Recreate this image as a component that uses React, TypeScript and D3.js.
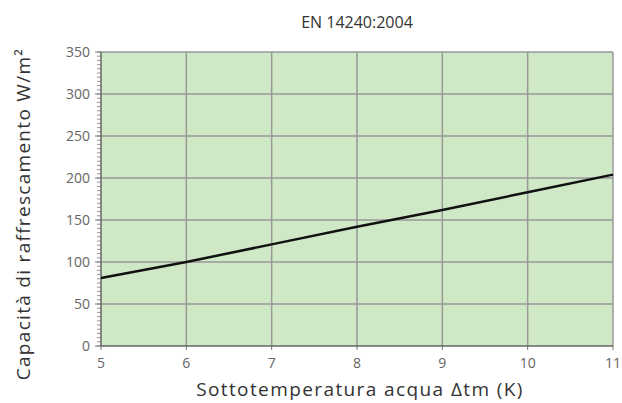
import * as d3 from 'd3'
import React, { useEffect, useRef } from 'react'

const subcooling = [5, 6, 7, 8, 9, 10, 11]
const capacity = [81, 100, 121, 142, 162, 183, 204]
const yTicks = [0, 50, 100, 150, 200, 250, 300, 350]
const xTicks = [5, 6, 7, 8, 9, 10, 11]

const W = 622
const H = 403

const App: React.FC = () => {
    const ref = useRef<SVGSVGElement>(null)

    useEffect(() => {
        if (!ref.current) return
        const margin = { top: 52, right: 9, bottom: 57, left: 101 }
        const svg = d3.select(ref.current)
        svg.selectAll('*').remove()

        const x = d3.scaleLinear().domain([5, 11]).range([margin.left, W - margin.right])
        const y = d3.scaleLinear().domain([0, 350]).range([H - margin.bottom, margin.top])

        const font = "'Open Sans', 'Noto Sans', sans-serif"

        svg.append('rect')
            .attr('x', x(5)).attr('y', y(350))
            .attr('width', x(11) - x(5)).attr('height', y(0) - y(350))
            .attr('fill', '#cfe8c5')

        // grid
        svg.append('g').selectAll('line').data(xTicks.slice(1)).enter().append('line')
            .attr('x1', d => x(d)).attr('x2', d => x(d))
            .attr('y1', y(350)).attr('y2', y(0))
            .attr('stroke', '#999').attr('stroke-width', 1.5)
        svg.append('g').selectAll('line').data(yTicks.slice(1)).enter().append('line')
            .attr('x1', x(5)).attr('x2', x(11))
            .attr('y1', d => y(d)).attr('y2', d => y(d))
            .attr('stroke', '#999').attr('stroke-width', 1.5)

        // minor ticks on y
        svg.append('g').selectAll('line').data(d3.range(0, 351, 5)).enter().append('line')
            .attr('x1', x(5) - 4).attr('x2', x(5))
            .attr('y1', d => y(d)).attr('y2', d => y(d))
            .attr('stroke', '#777').attr('stroke-width', 0.8)
        svg.append('g').selectAll('line').data(yTicks).enter().append('line')
            .attr('x1', x(5) - 6).attr('x2', x(5))
            .attr('y1', d => y(d)).attr('y2', d => y(d))
            .attr('stroke', '#777').attr('stroke-width', 1)
        svg.append('g').selectAll('line').data(xTicks).enter().append('line')
            .attr('x1', d => x(d)).attr('x2', d => x(d))
            .attr('y1', y(0)).attr('y2', y(0) + 4)
            .attr('stroke', '#777').attr('stroke-width', 1)

        // axes lines
        svg.append('line')
            .attr('x1', x(5)).attr('x2', x(5)).attr('y1', y(350)).attr('y2', y(0))
            .attr('stroke', '#666').attr('stroke-width', 1.5)
        svg.append('line')
            .attr('x1', x(5)).attr('x2', x(11)).attr('y1', y(0)).attr('y2', y(0))
            .attr('stroke', '#666').attr('stroke-width', 1.5)

        // tick labels
        svg.append('g').selectAll('text').data(yTicks).enter().append('text')
            .attr('x', x(5) - 11).attr('y', d => y(d)).attr('dy', '0.35em')
            .attr('text-anchor', 'end').attr('font-family', font).attr('font-size', 14)
            .attr('fill', '#666').text(d => d)
        svg.append('g').selectAll('text').data(xTicks).enter().append('text')
            .attr('x', d => x(d)).attr('y', y(0) + 22)
            .attr('text-anchor', 'middle').attr('font-family', font).attr('font-size', 14)
            .attr('fill', '#666').text(d => d)

        // line
        const line = d3.line<number>()
            .x((_, i) => x(subcooling[i]))
            .y(d => y(d))
        svg.append('path')
            .datum(capacity)
            .attr('d', line)
            .attr('fill', 'none')
            .attr('stroke', '#111')
            .attr('stroke-width', 2.5)

        // titles
        svg.append('text')
            .attr('x', x(8)).attr('y', 28)
            .attr('text-anchor', 'middle').attr('font-family', font).attr('font-size', 16)
            .attr('fill', '#333').text('EN 14240:2004')
        svg.append('text')
            .attr('x', 360).attr('y', 396)
            .attr('text-anchor', 'middle').attr('font-family', font).attr('font-size', 19)
            .attr('letter-spacing', 1.4)
            .attr('fill', '#333').text('Sottotemperatura acqua Δtm (K)')
        svg.append('text')
            .attr('transform', `translate(30, 214) rotate(-90)`)
            .attr('text-anchor', 'middle').attr('font-family', font).attr('font-size', 19)
            .attr('letter-spacing', 1.3)
            .attr('fill', '#333').text('Capacità di raffrescamento W/m²')
    }, [])

    return <svg ref={ref} width={W} height={H} style={{ position: 'absolute', left: 0, top: 0 }}></svg>
}

export default App
